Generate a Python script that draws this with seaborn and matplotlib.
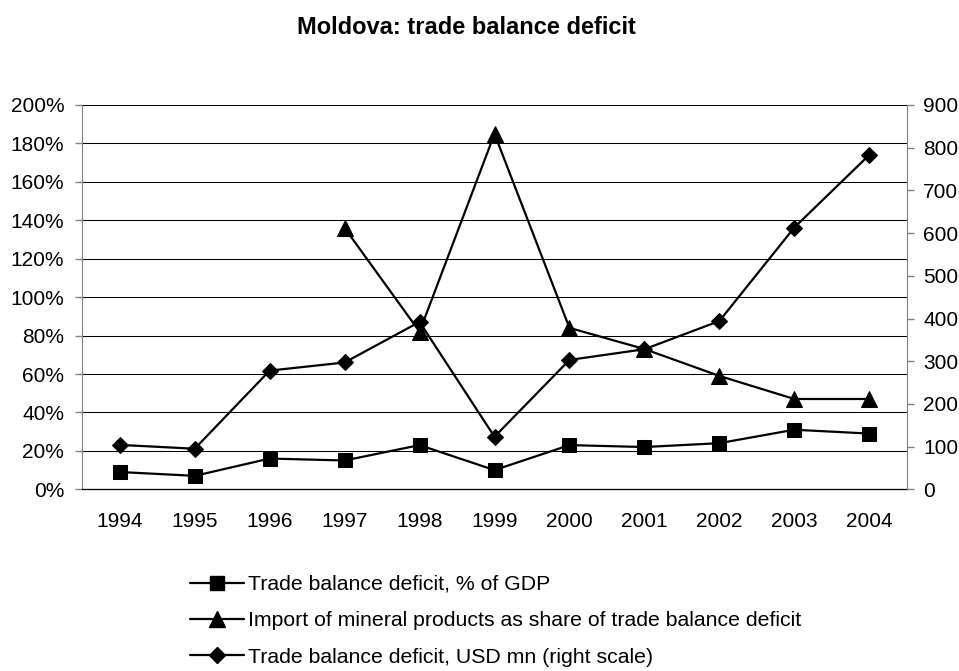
import numpy as np
import pandas as pd
import seaborn as sns
import matplotlib.pyplot as plt
from matplotlib.lines import Line2D
from matplotlib.ticker import FuncFormatter, MultipleLocator

## Data
years = ['1994', '1995', '1996', '1997', '1998', '1999', '2000', '2001', '2002', '2003', '2004']
deficit_pct_gdp = [9, 7, 16, 15, 23, 10, 23, 22, 24, 31, 29]
mineral_share = [np.nan, np.nan, np.nan, 136, 82, 185, 84, 73, 59, 47, 47]
deficit_usd_mn = [104, 95, 278, 297, 392, 123, 303, 328, 394, 613, 783]

labels = ['Trade balance deficit, % of GDP',
          'Import of mineral products as share of trade balance deficit',
          'Trade balance deficit, USD mn (right scale)']

df = pd.DataFrame({'pos': np.arange(len(years)),
                   'gdp': deficit_pct_gdp,
                   'mineral': mineral_share,
                   'usd': deficit_usd_mn})

## Style
sns.set_style('white')
plt.rcParams['font.family'] = ['Liberation Sans', 'DejaVu Sans']
plt.rcParams['text.color'] = 'black'
plt.rcParams['xtick.labelcolor'] = 'black'
plt.rcParams['ytick.labelcolor'] = 'black'
fs = 15

fig = plt.figure(figsize=(9.59, 6.71), dpi=100)
W, H = 959, 671
ax = fig.add_axes([82.3 / W, 1 - 489.3 / H, (906.7 - 82.3) / W, (489.3 - 105) / H])
ax2 = ax.twinx()

line_kw = dict(color='black', linewidth=1.6, markeredgecolor='black',
               markerfacecolor='black', legend=False, clip_on=False)

sns.lineplot(data=df, x='pos', y='gdp', ax=ax, marker='s', markersize=10, **line_kw)
sns.lineplot(data=df.dropna(), x='pos', y='mineral', ax=ax, marker='^', markersize=11, **line_kw)
sns.lineplot(data=df, x='pos', y='usd', ax=ax2, marker='D', markersize=8.5, **line_kw)

## Left axis
ax.set_xlim(-0.5, len(years) - 0.5)
ax.set_ylim(0, 200)
ax.yaxis.set_major_locator(MultipleLocator(20))
ax.yaxis.set_major_formatter(FuncFormatter(lambda v, p: '{:.0f}%'.format(v)))
ax.yaxis.grid(True, color='black', linewidth=0.75)
ax.set_axisbelow(True)

ax.set_xticks(np.arange(len(years)))
ax.set_xticklabels(years)
ax.set_xticks(np.arange(len(years) + 1) - 0.5, minor=True)
ax.tick_params(axis='x', which='major', length=0, pad=16, labelsize=fs)
ax.tick_params(axis='x', which='minor', length=5, width=1, color='#808080', direction='out')
ax.tick_params(axis='y', length=5, width=1, color='#808080', direction='out', pad=8, labelsize=fs, left=True)
ax.set_xlabel('')
ax.set_ylabel('')

for s in ['top', 'right']:
    ax.spines[s].set_visible(False)
ax.spines['left'].set_color('#808080')
ax.spines['bottom'].set_color('black')
ax.spines['bottom'].set_linewidth(0.9)

## Right axis
ax2.set_ylim(0, 900)
ax2.yaxis.set_major_locator(MultipleLocator(100))
ax2.tick_params(axis='y', length=5, width=1, color='#808080', direction='out', pad=7, labelsize=fs, right=True)
ax2.set_ylabel('')
for s in ['top', 'left', 'bottom']:
    ax2.spines[s].set_visible(False)
ax2.spines['right'].set_color('#808080')
ax2.grid(False)

## Title
fig.text(466.7 / W, 1 - 28 / H, 'Moldova: trade balance deficit',
         ha='center', va='center', fontsize=17, fontweight='bold', color='black')

## Legend
handles = [Line2D([], [], color='black', lw=1.6, marker=m, markersize=ms)
           for m, ms in [('s', 10), ('^', 11), ('D', 8.5)]]
fig.legend(handles, labels, loc='upper left', bbox_to_anchor=(190 / W, 1 - 575 / H),
           frameon=False, fontsize=15.3, handlelength=2.55, handletextpad=0.2,
           labelspacing=0.82, borderaxespad=0, borderpad=0)

fig.savefig('out.png', dpi=100)
